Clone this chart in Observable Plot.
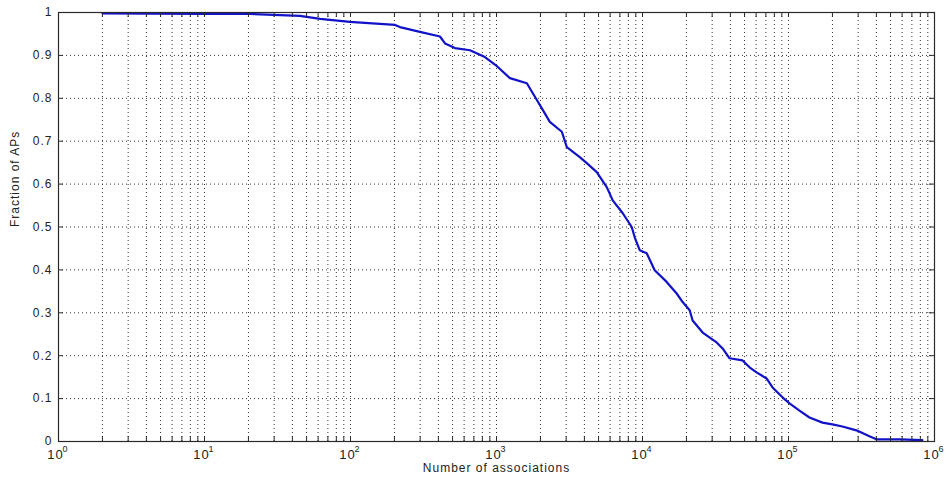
<!DOCTYPE html>
<html><head><meta charset="utf-8">
<script src="https://cdn.jsdelivr.net/npm/d3@7"></script>
<script src="https://cdn.jsdelivr.net/npm/@observablehq/plot@0.6"></script>
<style>
body{margin:0;background:#fff}
#chart svg{display:block}
#chart svg text{letter-spacing:1px}
</style>
</head><body><div id="chart"></div>
<script>
const associations = [2, 9.4, 20.6, 45, 62, 99, 202, 218, 299, 410, 444, 519, 658, 833, 991, 1235, 1614, 1890, 2143, 2318, 2801, 3032, 3718, 4153, 4860, 5690, 6253, 7324, 8437, 8845, 9570, 10680, 12120, 14630, 17140, 18840, 21040, 22040, 25820, 32190, 35370, 39470, 48450, 54100, 60420, 70760, 77760, 90960, 101600, 118900, 139200, 170900, 200000, 233900, 291800, 358100, 399900, 574400, 825700];
const fractionAPs = [0.998, 0.997, 0.9965, 0.992, 0.985, 0.978, 0.971, 0.966, 0.955, 0.944, 0.928, 0.917, 0.912, 0.896, 0.877, 0.847, 0.835, 0.796, 0.765, 0.745, 0.722, 0.686, 0.663, 0.649, 0.628, 0.593, 0.562, 0.532, 0.500, 0.476, 0.446, 0.439, 0.399, 0.372, 0.345, 0.325, 0.306, 0.282, 0.254, 0.231, 0.217, 0.194, 0.189, 0.173, 0.161, 0.147, 0.126, 0.103, 0.089, 0.072, 0.056, 0.044, 0.040, 0.035, 0.026, 0.012, 0.005, 0.005, 0.003];
const xTickValues = [1, 10, 100, 1000, 10000, 100000, 1000000];
const xTickBase = "10";
const xTickExponents = ["0", "1", "2", "3", "4", "5", "6"];
const yTickValues = [0, 0.1, 0.2, 0.3, 0.4, 0.5, 0.6, 0.7, 0.8, 0.9, 1];
const yTickLabels = ["0", "0.1", "0.2", "0.3", "0.4", "0.5", "0.6", "0.7", "0.8", "0.9", "1"];
const xLabel = "Number of associations";
const yLabel = "Fraction of APs";

const W = 948, H = 481, mL = 58, mR = 14, mT = 12, mB = 40;
const plotH = H - mT - mB, plotW = W - mL - mR, tk = 5;
const data = associations.map((a, i) => ({a, f: fractionAPs[i]}));
const xMinor = [];
for (let k = 0; k < 6; k++) for (let m = 1; m <= 9; m++) { const v = m * Math.pow(10, k); if (v > 1) xMinor.push(v); }
const xAllTicks = xMinor.concat([1, 1e6]);
const gridCol = "#333", axisCol = "#2a2a2a", textCol = "#222";

const chart = Plot.plot({
  width: W, height: H,
  marginLeft: mL, marginRight: mR, marginTop: mT, marginBottom: mB,
  style: {fontFamily: "'Liberation Sans', Arial, sans-serif", fontSize: "12px", color: textCol, background: "#fff"},
  x: {type: "log", domain: [1, 1e6], axis: null},
  y: {domain: [0, 1], axis: null},
  marks: [
    Plot.ruleX(xMinor, {x: d => d, stroke: gridCol, strokeDasharray: "1,3", strokeWidth: 1}),
    Plot.ruleY(yTickValues.slice(1, -1), {y: d => d, stroke: gridCol, strokeDasharray: "1,3", strokeWidth: 1}),
    Plot.line(data, {x: "a", y: "f", stroke: "#1212c8", strokeWidth: 2.2}),
    Plot.frame({stroke: axisCol, strokeWidth: 1.2}),
    Plot.tickX(xAllTicks, {x: d => d, insetTop: plotH - tk, stroke: axisCol}),
    Plot.tickX(xAllTicks, {x: d => d, insetBottom: plotH - tk, stroke: axisCol}),
    Plot.tickY(yTickValues, {y: d => d, insetRight: plotW - tk, stroke: axisCol}),
    Plot.tickY(yTickValues, {y: d => d, insetLeft: plotW - tk, stroke: axisCol}),
    Plot.axisY(yTickValues, {tickSize: 0, tickPadding: 6, label: null, tickFormat: d => yTickLabels[yTickValues.indexOf(d)]}),
    Plot.text(xTickValues, {x: d => d, frameAnchor: "bottom", dy: 17, dx: -3, text: () => xTickBase, fontSize: 13, fill: textCol}),
    Plot.text(xTickValues, {x: d => d, frameAnchor: "bottom", dy: 10, dx: 7, text: (d, i) => xTickExponents[i], fontSize: 9, fill: textCol}),
    Plot.text([xLabel], {text: d => d, frameAnchor: "bottom", dy: 30, fill: textCol}),
    Plot.text([yLabel], {text: d => d, frameAnchor: "left", dx: -43, rotate: -90, fill: textCol})
  ]
});
document.getElementById("chart").appendChild(chart);
</script>
</body></html>
